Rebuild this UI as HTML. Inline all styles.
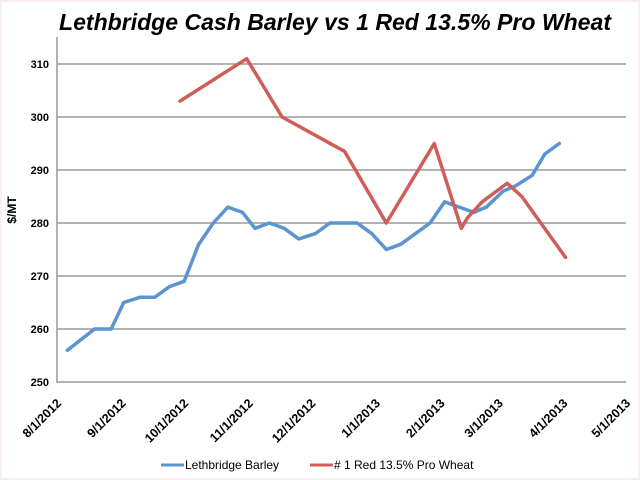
<!DOCTYPE html>
<html><head><meta charset="utf-8"><style>
html,body{margin:0;padding:0;background:#fff}
#wrap{width:640px;height:480px;position:relative;box-sizing:border-box;border:2px solid #fbeef2;background:#fff}
text{font-family:"Liberation Sans",sans-serif}
</style></head><body>
<div id="wrap">
<svg id="chart" width="640" height="480" style="position:absolute;left:-2px;top:-2px">
<text x="335" y="30" text-anchor="middle" font-size="23" font-weight="bold" font-style="italic" fill="#000" textLength="552" lengthAdjust="spacingAndGlyphs">Lethbridge Cash Barley vs 1 Red 13.5% Pro Wheat</text>
<text transform="translate(16,210) rotate(-90)" text-anchor="middle" font-size="12" font-weight="bold">$/MT</text>
<g id="grid"></g><g id="series"></g><g id="axes"></g>
<g>
<line x1="161" y1="465" x2="184" y2="465" stroke="#5b94cf" stroke-width="3"/>
<text x="185" y="469" font-size="12">Lethbridge Barley</text>
<line x1="310" y1="465" x2="333" y2="465" stroke="#cf5d58" stroke-width="3"/>
<text x="334" y="469" font-size="12"># 1 Red 13.5% Pro Wheat</text>
</g>
</svg>
</div>
<script>
const yTicks=[250,260,270,280,290,300,310];
const xTickLabels=["8/1/2012","9/1/2012","10/1/2012","11/1/2012","12/1/2012","1/1/2013","2/1/2013","3/1/2013","4/1/2013","5/1/2013"];
const xTickDays=[0,31,61,92,122,153,184,212,243,273];
const barleyDays=[5,18,26,32,40,47,54,61,68,75,82,89,95,102,109,116,124,131,138,144,151,158,165,172,179,186,193,200,206,214,220,228,234,241];
const barleyValues=[256,260,260,265,266,266,268,269,276,280,283,282,279,280,279,277,278,280,280,280,278,275,276,278,280,284,283,282,283,286,287,289,293,295];
const wheatDays=[59,91,108,138,158,181,194,197,204,216,223,244];
const wheatValues=[303,311,300,293.5,280,295,279,281,284,287.5,285,273.5];
const X0=57,X1=626,Y0=382,YTOP=37;
const x=d=>X0+d/273*(X1-X0);
const y=v=>Y0-(v-250)*5.3;
const NS="http://www.w3.org/2000/svg";
const grid=document.getElementById('grid'),axes=document.getElementById('axes'),ser=document.getElementById('series');
yTicks.forEach(t=>{
 if(t>250){const l=document.createElementNS(NS,'line');
 l.setAttribute('x1',X0);l.setAttribute('x2',X1);l.setAttribute('y1',y(t));l.setAttribute('y2',y(t));
 l.setAttribute('stroke','#999');l.setAttribute('stroke-width','1.5');
 
 
 grid.appendChild(l);}
 const tx=document.createElementNS(NS,'text');
 tx.setAttribute('x',X0-8);tx.setAttribute('y',y(t)+4);tx.setAttribute('text-anchor','end');tx.setAttribute('font-size','11');tx.setAttribute('font-weight','bold');
 tx.textContent=t;
 
 
 axes.appendChild(tx);
});
const ax=document.createElementNS(NS,'path');
ax.setAttribute('d',`M${X0},${YTOP}V${Y0}H${X1}`);ax.setAttribute('stroke','#999');ax.setAttribute('stroke-width','1.5');ax.setAttribute('fill','none');


axes.appendChild(ax);
xTickLabels.forEach((lab,i)=>{
 const px=x(xTickDays[i]);
 const tx=document.createElementNS(NS,'text');
 tx.setAttribute('transform',`translate(${px+5},${Y0+22}) rotate(-45)`);
 tx.setAttribute('text-anchor','end');tx.setAttribute('font-size','12.5');tx.setAttribute('font-weight','bold');
 tx.textContent=lab;
 
 
 axes.appendChild(tx);
});
function line(days,vals,color,name){
 const p=document.createElementNS(NS,'polyline');
 p.setAttribute('points',days.map((d,i)=>x(d)+','+y(vals[i])).join(' '));
 p.setAttribute('fill','none');p.setAttribute('stroke',color);p.setAttribute('stroke-width','3.5');p.setAttribute('stroke-linejoin','round');p.setAttribute('stroke-linecap','round');
 
 
 ser.appendChild(p);
}
line(barleyDays,barleyValues,'#5b94cf','barley-line');
line(wheatDays,wheatValues,'#cf5d58','wheat-line');
</script>
</body></html>
